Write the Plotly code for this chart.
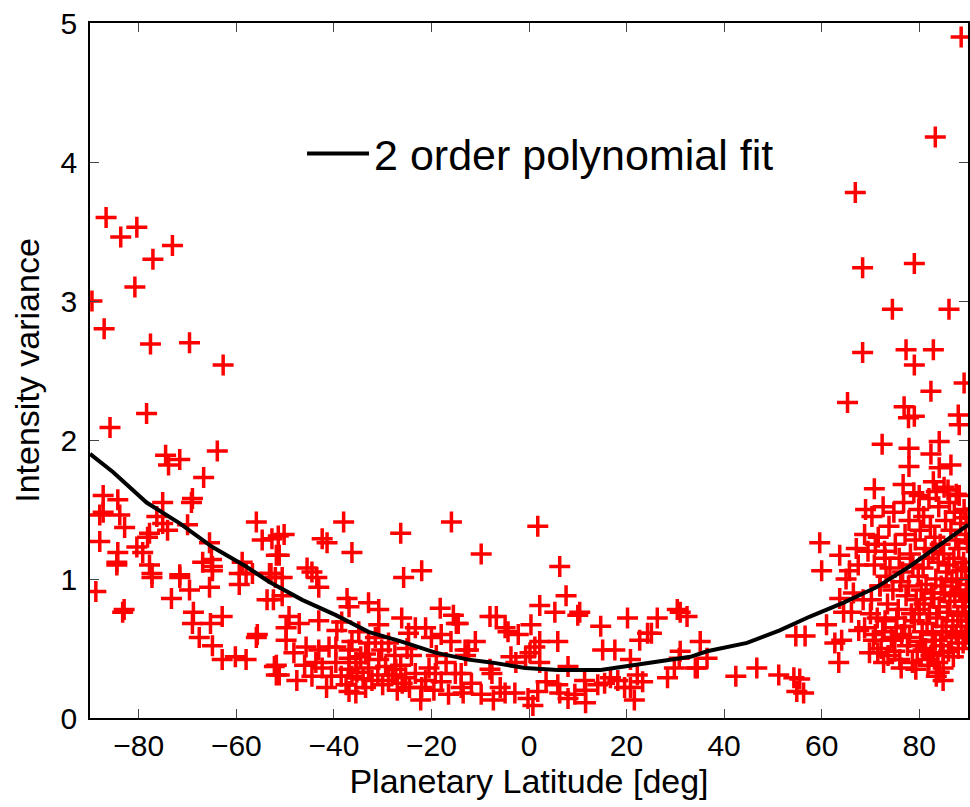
import plotly.graph_objects as go

# ---------------- data ----------------
south_pts = [
    (-86.7, 3.60), (-83.7, 3.46), (-80.4, 3.53), (-77.1, 3.30), (-73.1, 3.40), (-80.8, 3.10),
    (-89.6, 3.00), (-87.1, 2.80), (-77.6, 2.69), (-69.6, 2.70), (-62.7, 2.54),
    (-78.4, 2.19), (-85.9, 2.09), (-63.9, 1.92), (-74.5, 1.89), (-71.6, 1.86), (-73.9, 1.82),
    (-66.7, 1.73), (-87.3, 1.60), (-84.3, 1.57), (-87.3, 1.48), (-88.0, 1.46), (-83.9, 1.46),
    (-82.9, 1.37), (-69.0, 1.58), (-69.2, 1.55), (-75.1, 1.55), (-76.3, 1.45), (-75.1, 1.40),
    (-74.1, 1.35), (-70.0, 1.39), (-77.8, 1.33), (-78.2, 1.30), (-88.0, 1.27), (-80.4, 1.23),
    (-79.2, 1.19), (-84.3, 1.19), (-84.5, 1.12), (-77.8, 1.10), (-77.3, 1.04), (-71.6, 1.03),
    (-65.5, 1.26), (-65.1, 1.14), (-66.9, 1.12), (-64.9, 1.09), (-55.9, 1.41), (-54.7, 1.28),
    (-52.7, 1.29), (-51.8, 1.17), (-52.9, 1.04), (-58.8, 1.12), (-58.0, 1.04),
    (-84.5, 1.10), (-77.3, 1.01), (-88.8, 0.91), (-83.3, 0.76), (-83.0, 0.78), (-71.6, 1.01),
    (-69.6, 0.92), (-65.5, 0.94), (-73.3, 0.86), (-68.8, 0.76), (-69.0, 0.68), (-65.3, 0.68),
    (-62.9, 0.73), (-67.6, 0.58), (-64.9, 0.52), (-62.9, 0.42), (-60.2, 0.44), (-58.0, 0.42),
    (-64.9, 1.06), (-59.4, 1.04), (-59.4, 0.96), (-56.7, 1.04), (-53.2, 1.04), (-53.7, 0.85),
    (-55.7, 0.60), (-55.9, 0.58), (-52.2, 0.37), (-51.8, 0.31),
]

midsouth_pts = [
    (-38.0, 1.41), (-26.3, 1.33), (-15.9, 1.41), (-51.4, 1.31), (-50.2, 1.32), (-42.4, 1.29),
    (-41.4, 1.26), (-51.2, 1.17), (-36.3, 1.19), (-22.0, 1.06), (-25.7, 1.01), (-45.5, 1.08),
    (-44.5, 1.05), (-43.5, 1.01), (-43.1, 0.94), (-52.0, 1.01), (-50.6, 1.01), (-52.4, 0.85),
    (-50.6, 0.88), (-37.3, 0.86), (-36.9, 0.80), (-32.9, 0.83), (-30.8, 0.78), (-18.2, 0.79),
    (-15.5, 0.74), (-14.9, 0.68), (-26.1, 0.72), (-49.2, 0.73), (-49.8, 0.65), (-47.1, 0.68),
    (-43.1, 0.70), (-39.4, 0.63), (-38.4, 0.69), (-30.8, 0.67), (-34.9, 0.62), (-23.3, 0.65),
    (-21.2, 0.65), (-20.0, 0.58), (-18.0, 0.60), (-24.7, 0.61), (-49.8, 0.56), (-48.2, 0.47),
    (-45.7, 0.51), (-43.1, 0.49), (-41.0, 0.51), (-36.9, 0.49), (-36.9, 0.43), (-35.5, 0.40),
    (-34.5, 0.44), (-32.9, 0.36), (-36.9, 0.35), (-39.6, 0.40), (-42.4, 0.36), (-43.7, 0.40),
    (-51.8, 0.38), (-51.2, 0.31), (-47.6, 0.27), (-36.3, 0.30), (-35.3, 0.33), (-36.9, 0.19),
    (-35.5, 0.18), (-30.8, 0.42), (-29.4, 0.37), (-27.3, 0.35), (-26.3, 0.38), (-25.3, 0.29),
    (-24.1, 0.45), (-23.3, 0.32), (-21.2, 0.27), (-22.0, 0.22), (-22.2, 0.13), (-19.2, 0.32),
    (-18.0, 0.26), (-15.1, 0.32), (-13.9, 0.22), (-13.1, 0.49), (-30.2, 0.49), (-28.8, 0.54),
    (-32.9, 0.54), (-36.3, 0.55), (-39.6, 0.51), (-32.2, 0.27), (-28.8, 0.27),
    (-38.5, 0.30), (-37.5, 0.24), (-34.0, 0.28), (-33.5, 0.22), (-31.0, 0.31), (-30.0, 0.24),
    (-28.0, 0.31), (-27.0, 0.20), (-26.0, 0.25), (-24.5, 0.22), (-20.5, 0.36), (-19.5, 0.20),
    (-17.0, 0.40), (-16.5, 0.17), (-40.5, 0.30), (-41.5, 0.22), (-44.5, 0.30), (-46.0, 0.38),
    (-33.5, 0.46), (-31.5, 0.58), (-27.5, 0.45), (-25.0, 0.50), (-19.0, 0.45), (-16.0, 0.55),
    (-11.0, 0.55),
]

equator_pts = [
    (1.8, 1.38), (-9.8, 1.18), (6.3, 1.09), (7.6, 0.88), (2.2, 0.81), (5.3, 0.76), (10.4, 0.76),
    (10.0, 0.74), (-8.0, 0.73), (-6.7, 0.73), (-14.5, 0.68), (0.4, 0.67), (14.7, 0.66),
    (20.2, 0.72), (26.3, 0.72), (30.4, 0.78), (32.4, 0.73), (-4.9, 0.65), (-4.3, 0.62),
    (-2.2, 0.60), (24.3, 0.61), (22.7, 0.56), (35.1, 0.55), (5.9, 0.55), (2.2, 0.55), (1.2, 0.51),
    (0.2, 0.47), (15.1, 0.49), (17.6, 0.49), (-12.4, 0.49), (-13.0, 0.45), (-3.7, 0.44),
    (-0.7, 0.44), (-2.7, 0.40), (2.2, 0.40), (8.0, 0.37), (20.8, 0.42), (31.0, 0.48),
    (30.8, 0.43), (29.8, 0.36), (28.4, 0.29), (34.5, 0.36), (-8.0, 0.35), (-7.6, 0.32),
    (-13.9, 0.32), (-11.8, 0.25), (-13.5, 0.18), (-9.8, 0.17), (-7.3, 0.13), (-5.9, 0.22),
    (-4.9, 0.18), (-2.9, 0.18), (-0.2, 0.14), (0.8, 0.09), (1.8, 0.19), (3.5, 0.26), (5.9, 0.24),
    (6.3, 0.18), (8.0, 0.14), (9.4, 0.17), (11.4, 0.27), (11.6, 0.20), (11.6, 0.11), (14.1, 0.24),
    (15.5, 0.25), (16.7, 0.29), (18.2, 0.27), (19.6, 0.22), (20.8, 0.22), (21.6, 0.13),
    (22.2, 0.31), (23.3, 0.26), (31.0, 0.76), (25.1, 0.61), (34.1, 0.36), (36.5, 0.43),
    (42.4, 0.30), (46.7, 0.36), (51.2, 0.31), (54.3, 0.29), (54.9, 0.19),
]

north_pts = [
    (55.5, 0.28), (56.3, 0.18), (59.6, 1.26), (60.0, 1.06), (63.7, 1.17), (67.1, 1.22),
    (65.7, 1.06), (68.8, 1.32), (69.0, 1.50), (70.8, 1.65), (76.7, 1.68), (61.0, 0.67),
    (63.7, 0.86), (64.5, 0.76), (66.1, 0.76), (62.7, 0.54), (64.1, 0.56), (63.5, 0.40),
    (54.7, 0.59), (56.6, 0.59), (67.6, 0.63), (68.8, 0.65), (70.6, 0.56), (69.8, 0.47),
    (72.7, 0.40), (71.5, 0.47), (76.3, 0.36), (84.9, 0.27), (84.1, 0.33), (82.0, 0.42),
    (82.9, 0.47), (80.8, 0.49), (84.9, 0.47), (74.7, 0.56), (75.3, 0.65),
    (74.5, 2.94), (86.1, 2.94), (68.4, 2.63), (77.3, 2.65), (82.9, 2.65), (79.0, 2.54),
    (89.2, 2.41), (82.4, 2.35), (65.3, 2.27), (76.9, 2.24), (79.0, 2.17), (77.8, 2.16),
    (88.0, 2.18), (88.2, 2.11), (72.4, 1.97), (84.1, 1.99), (77.9, 1.94), (82.4, 1.90),
    (77.9, 1.81), (84.1, 1.80), (86.5, 1.82), (80.0, 1.60), (83.5, 1.63), (85.9, 1.64),
    (87.6, 1.61), (88.6, 4.90), (83.3, 4.18), (66.9, 3.78), (68.4, 3.24), (79.0, 3.27),
    (65.0, 1.00), (66.5, 0.90), (67.5, 1.10), (68.5, 0.85), (69.5, 1.20), (70.0, 0.75),
    (71.0, 1.25), (72.0, 0.95), (73.0, 1.15), (73.0, 0.70),
]

polar_pts = [
    (70.3, 1.45), (70.8, 1.10), (70.2, 0.85), (71.0, 0.60),
    (71.6, 1.30), (71.9, 0.95), (71.4, 0.72), (72.2, 0.50),
    (72.6, 1.52), (72.9, 1.20), (73.2, 1.02), (72.5, 0.62), (73.6, 0.45),
    (73.8, 1.38), (74.0, 1.08), (73.5, 0.82), (74.3, 0.58),
    (74.8, 1.48), (75.1, 1.25), (74.6, 0.92), (75.4, 0.72), (75.0, 0.48),
    (75.9, 1.15), (76.2, 0.98), (75.7, 0.78), (76.4, 0.60), (76.0, 0.42),
    (76.8, 1.55), (77.1, 1.32), (76.6, 1.05), (77.3, 0.88), (77.0, 0.66), (77.6, 0.52),
    (77.9, 1.42), (78.2, 1.18), (77.8, 0.95), (78.4, 0.75), (78.0, 0.58), (78.6, 0.40),
    (78.9, 1.62), (79.2, 1.28), (78.7, 1.10), (79.4, 0.85), (79.0, 0.70), (79.6, 0.48), (79.3, 0.35),
    (79.9, 1.50), (80.2, 1.35), (79.8, 1.02), (80.4, 0.92), (80.0, 0.78), (80.6, 0.62), (80.3, 0.55),
    (80.9, 1.45), (81.2, 1.22), (80.8, 1.08), (81.4, 0.96), (81.0, 0.82), (81.6, 0.68), (81.3, 0.50), (81.8, 0.38),
    (82.0, 1.58), (82.3, 1.38), (81.9, 1.15), (82.5, 0.90), (82.1, 0.75), (82.7, 0.60), (82.4, 0.45),
    (82.9, 1.70), (83.2, 1.30), (82.8, 1.20), (83.4, 1.00), (83.0, 0.86), (83.6, 0.72), (83.3, 0.56), (83.8, 0.40), (83.5, 0.30),
    (84.0, 1.52), (84.3, 1.25), (83.9, 1.12), (84.5, 0.95), (84.1, 0.80), (84.7, 0.66), (84.4, 0.52), (84.9, 0.36),
    (85.1, 1.66), (85.4, 1.42), (85.0, 1.18), (85.6, 1.05), (85.2, 0.90), (85.8, 0.76), (85.5, 0.62), (86.0, 0.48),
    (86.2, 1.55), (86.5, 1.35), (86.1, 1.10), (86.7, 0.98), (86.3, 0.84), (86.9, 0.70), (86.6, 0.58), (87.0, 0.44),
    (87.2, 1.48), (87.5, 1.28), (87.1, 1.15), (87.7, 1.00), (87.3, 0.88), (87.9, 0.74), (87.6, 0.60), (88.0, 0.50),
    (88.2, 1.60), (88.5, 1.40), (88.1, 1.22), (88.7, 1.06), (88.3, 0.92), (88.9, 0.80), (88.6, 0.66), (89.0, 0.54),
    (89.2, 1.50), (89.5, 1.32), (89.1, 1.12), (89.7, 0.96), (89.3, 0.84), (89.8, 0.70), (89.4, 0.58),
    (89.6, 1.44), (89.9, 1.26), (89.5, 1.08), (89.7, 0.90), (89.4, 0.76), (89.8, 0.62),
]

# 2nd order polynomial fit curve
fit_lat = [-90, -85.3, -78.4, -71.6, -64.9, -58.0, -53.3, -46.5, -39.6, -32.9, -26.1, -19.2,
           -12.4, -7.8, -0.8, 5.9, 14.7, 19.6, 26.3, 33.1, 36.5, 44.7, 51.4, 57.6, 64.5, 71.2,
           78.0, 84.9, 90]
fit_var = [1.90, 1.77, 1.55, 1.40, 1.23, 1.09, 0.98, 0.85, 0.74, 0.62, 0.55, 0.47,
           0.42, 0.40, 0.36, 0.345, 0.345, 0.37, 0.40, 0.44, 0.48, 0.54, 0.63, 0.73, 0.83, 0.94,
           1.09, 1.26, 1.39]

x_ticks = [-80, -60, -40, -20, 0, 20, 40, 60, 80]
y_ticks = [0, 1, 2, 3, 4, 5]

all_pts = south_pts + midsouth_pts + equator_pts + north_pts + polar_pts
lat = [p[0] for p in all_pts]
var = [p[1] for p in all_pts]

FONT = "Liberation Sans, Arial, Helvetica, sans-serif"

fig = go.Figure()
fig.add_trace(go.Scatter(
    x=lat, y=var, mode="markers", showlegend=False,
    marker=dict(symbol="cross-thin", size=15, color="#ff0000",
                line=dict(color="#ff0000", width=3.5)),
    hoverinfo="x+y",
))
fig.add_trace(go.Scatter(
    x=fit_lat, y=fit_var, mode="lines", name="2 order polynomial fit",
    line=dict(color="black", width=4),
))

axis_common = dict(
    showline=True, linecolor="black", linewidth=1.5, mirror="ticks",
    ticks="inside", ticklen=9, tickwidth=1, tickcolor="#444",
    showgrid=False, zeroline=False,
    tickfont=dict(family=FONT, size=30, color="black"),
)

fig.update_xaxes(range=[-90, 90], tickvals=x_ticks,
                 title=dict(text="Planetary Latitude [deg]",
                            font=dict(family=FONT, size=34, color="black"), standoff=8),
                 **axis_common)
fig.update_yaxes(range=[0, 5], tickvals=y_ticks,
                 title=dict(text="Intensity variance",
                            font=dict(family=FONT, size=34, color="black"), standoff=11),
                 ticklabelstandoff=5,
                 **axis_common)

fig.update_layout(
    width=970, height=807,
    margin=dict(l=90, r=0, t=23, b=89),
    plot_bgcolor="white", paper_bgcolor="white",
    font=dict(family=FONT, color="black"),
    legend=dict(x=0.2415, y=0.812, xanchor="left", yanchor="middle",
                bgcolor="rgba(255,255,255,0)", borderwidth=0,
                font=dict(family=FONT, size=43, color="black"), itemwidth=62),
)

fig.write_html(
    "out.html",
    config={"displayModeBar": False},
    post_script="document.body.style.margin='0';document.body.style.overflow='hidden';",
)
